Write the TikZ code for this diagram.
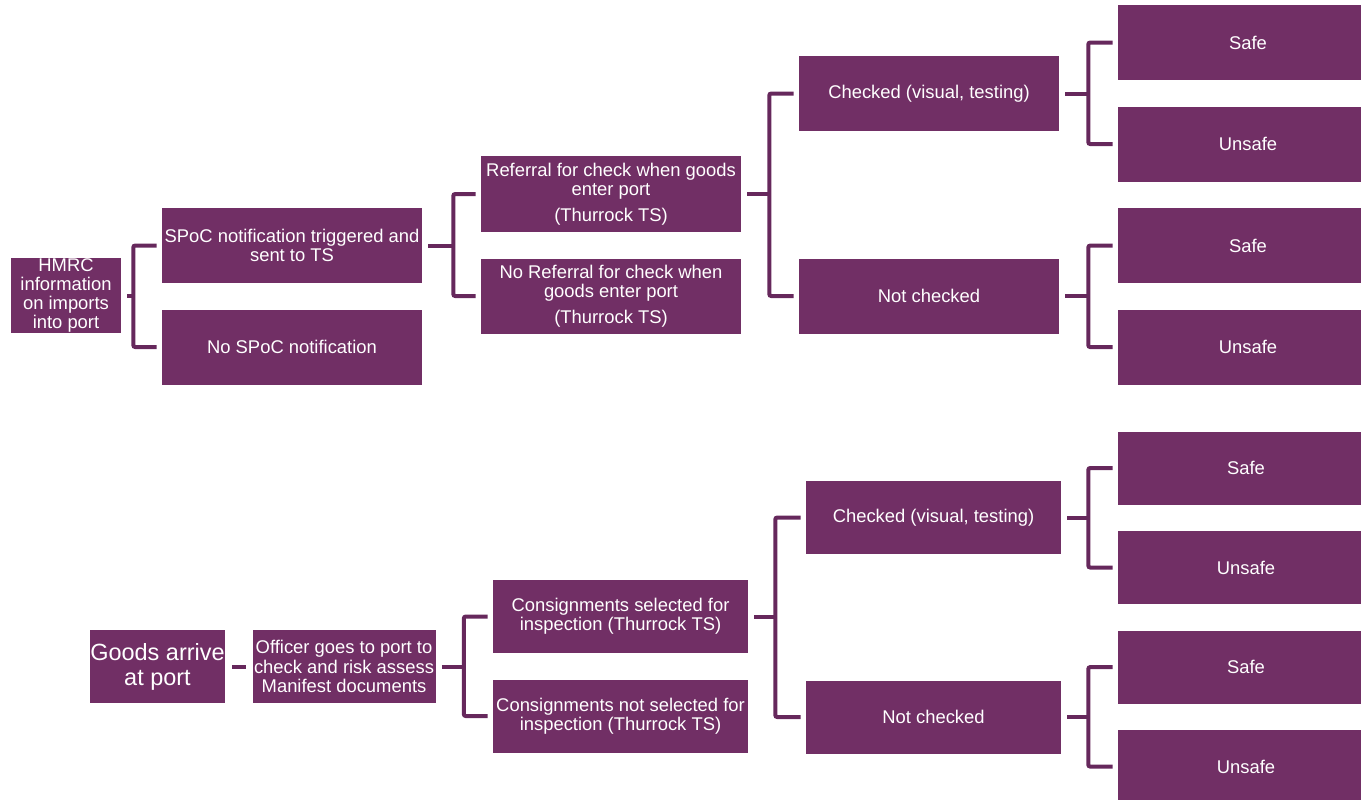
\documentclass[tikz,border=0pt]{standalone}
\usepackage{fontspec}
\setmainfont{Liberation Sans}
\usetikzlibrary{positioning,calc}
\definecolor{plum}{RGB}{113,47,101}
\definecolor{plumline}{RGB}{102,40,92}

\begin{document}
\begin{tikzpicture}[x=0.75pt, y=-0.75pt,
		box/.style={fill=plum, text=white, align=center, inner sep=0pt,
			minimum width=195pt, minimum height=56.25pt,
			font=\fontsize{13.8}{14.4}\selectfont},
		narrow/.style={box, minimum width=191.25pt, minimum height=54.75pt},
		link/.style={draw=plumline, line width=3pt, rounded corners=1.5pt},
		node distance=19.5pt]

		\useasboundingbox (0,0) rectangle (1361,800);
		\clip (0,0) rectangle (1361,800);

		\node[box, minimum width=82.5pt] (hmrc) at (66,295.5) {HMRC\\information\\on imports\\into port};
		\node[box] (spoc) at (292,245.5) {SPoC notification triggered and\\sent to TS};
		\node[box, below=of spoc] (nospoc) {No SPoC notification};
		\node[box, minimum height=57pt] (referral) at (611,194) {Referral for check when goods\\enter port\\[5pt](Thurrock TS)};
		\node[box, below=of referral] (noreferral) {No Referral for check when\\goods enter port\\[5pt](Thurrock TS)};
		\node[box] (checkedA) at (929,93.5) {Checked (visual, testing)};
		\node[box, below=95.25pt of checkedA] (notcheckedA) {Not checked};
		\node[box] (safeA) at (1248,42.5) {Safe};
		\node[box, below=of safeA] (unsafeA) {Unsafe};
		\node[box, below=of unsafeA] (safeB) {Safe};
		\node[box, below=of safeB] (unsafeB) {Unsafe};

		\node[narrow, minimum width=101.25pt, font=\fontsize{17.6}{18.8}\selectfont] (goods) at (157.5,666.5) {Goods arrive\\at port};
		\node[narrow, minimum width=137.25pt, right=20.25pt of goods] (officer) {Officer goes to port to\\check and risk assess\\Manifest documents};
		\node[narrow] (selected) at (620.5,616.5) {Consignments selected for\\inspection (Thurrock TS)};
		\node[narrow, below=of selected] (notselected) {Consignments not selected for\\inspection (Thurrock TS)};
		\node[narrow] (checkedB) at (933.5,517.5) {Checked (visual, testing)};
		\node[narrow, below=94.5pt of checkedB] (notcheckedB) {Not checked};
		\node[narrow, minimum width=192pt] (safeC) at (1246,468) {Safe};
		\node[narrow, minimum width=192pt, below=of safeC] (unsafeC) {Unsafe};
		\node[narrow, minimum width=192pt, below=of unsafeC] (safeD) {Safe};
		\node[narrow, minimum width=192pt, below=of safeD] (unsafeD) {Unsafe};

		\coordinate (j1) at ($(hmrc.east)+(12,0)$);
		\coordinate (j2) at ($(spoc.east)+(31,0)$);
		\coordinate (j3) at ($(referral.east)+(28,0)$);
		\coordinate (j4) at ($(checkedA.east)+(29,0)$);
		\coordinate (j5) at ($(notcheckedA.east)+(29,0)$);
		\coordinate (j6) at ($(officer.east)+(28,0)$);
		\coordinate (j7) at ($(selected.east)+(27,0)$);
		\coordinate (j8) at ($(checkedB.east)+(27,0)$);
		\coordinate (j9) at ($(notcheckedB.east)+(27,0)$);

		\draw[link] ([xshift=4.5pt]hmrc.east) -- (j1);
		\draw[link] ([xshift=-3.75pt]spoc.west) -| (j1) |- ([xshift=-3.75pt]nospoc.west);
		\draw[link] ([xshift=4.5pt]spoc.east) -- (j2);
		\draw[link] ([xshift=-3.75pt]referral.west) -| (j2) |- ([xshift=-3.75pt]noreferral.west);
		\draw[link] ([xshift=4.5pt]referral.east) -- (j3);
		\draw[link] ([xshift=-3.75pt]checkedA.west) -| (j3) |- ([xshift=-3.75pt]notcheckedA.west);
		\draw[link] ([xshift=4.5pt]checkedA.east) -- (j4);
		\draw[link] ([xshift=-3.75pt]safeA.west) -| (j4) |- ([xshift=-3.75pt]unsafeA.west);
		\draw[link] ([xshift=4.5pt]notcheckedA.east) -- (j5);
		\draw[link] ([xshift=-3.75pt]safeB.west) -| (j5) |- ([xshift=-3.75pt]unsafeB.west);

		\draw[link] ([xshift=5.25pt]goods.east) -- ([xshift=-4.5pt]officer.west);
		\draw[link] ([xshift=4.5pt]officer.east) -- (j6);
		\draw[link] ([xshift=-3.75pt]selected.west) -| (j6) |- ([xshift=-3.75pt]notselected.west);
		\draw[link] ([xshift=4.5pt]selected.east) -- (j7);
		\draw[link] ([xshift=-3.75pt]checkedB.west) -| (j7) |- ([xshift=-3.75pt]notcheckedB.west);
		\draw[link] ([xshift=4.5pt]checkedB.east) -- (j8);
		\draw[link] ([xshift=-3.75pt]safeC.west) -| (j8) |- ([xshift=-3.75pt]unsafeC.west);
		\draw[link] ([xshift=4.5pt]notcheckedB.east) -- (j9);
		\draw[link] ([xshift=-3.75pt]safeD.west) -| (j9) |- ([xshift=-3.75pt]unsafeD.west);
\end{tikzpicture}
\end{document}
